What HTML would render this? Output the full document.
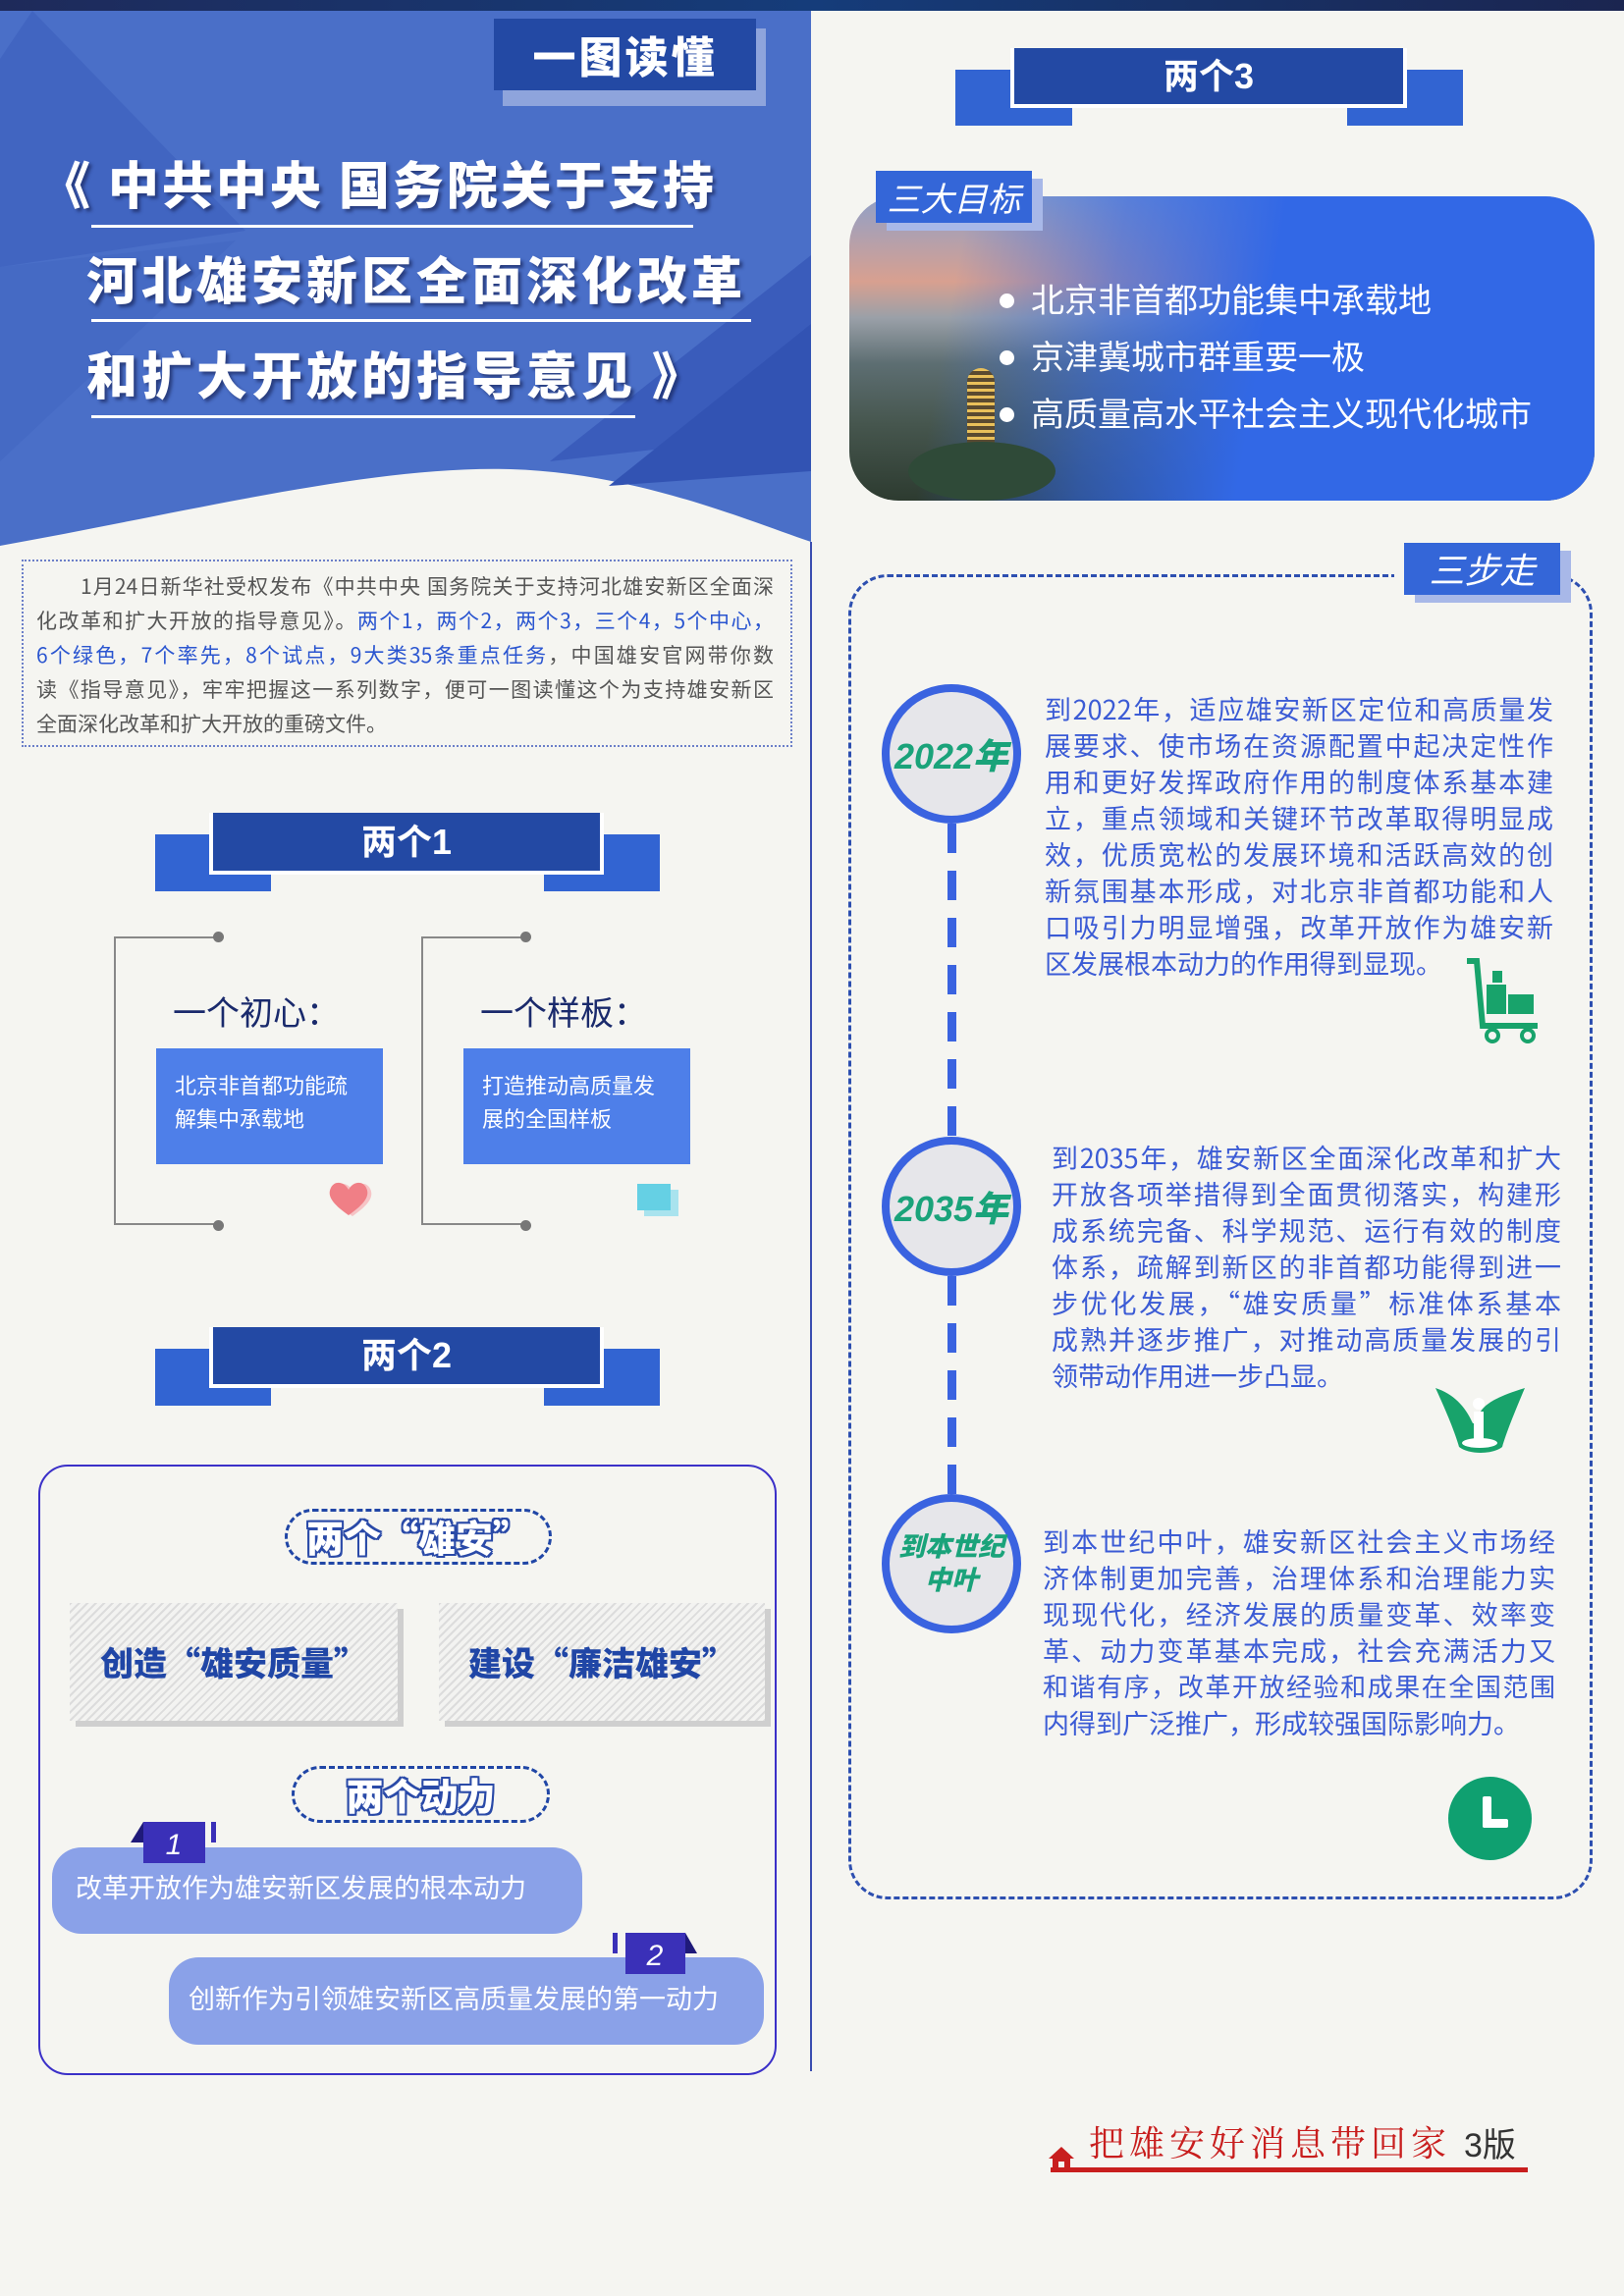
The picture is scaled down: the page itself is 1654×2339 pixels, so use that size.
<!DOCTYPE html>
<html><head><meta charset="utf-8">
<style>
*{margin:0;padding:0;box-sizing:border-box}
body{width:1654px;height:2339px;background:#f5f5f1;position:relative;overflow:hidden;font-family:"Liberation Sans","Noto Sans CJK SC",sans-serif}
.a{position:absolute}
.cj{font-family:"Noto Sans CJK SC","Liberation Sans",sans-serif}
.hm{position:absolute;background:#2349a4;border:4px solid #fff;border-top:0;color:#fff;font-weight:700;font-size:36px;text-align:center}
.hs{position:absolute;background:#3264d2}
.jl{text-align:justify;text-align-last:justify}
.tt{position:absolute;color:#fff;font-weight:900;font-size:52px;letter-spacing:4px;white-space:nowrap;text-shadow:3px 3px 3px rgba(20,30,80,.6)}
.ul{position:absolute;height:3px;background:#fff}
.intro div{position:absolute;left:37px;width:751px;font-size:21px;color:#555;height:35px;line-height:35px}
.b{color:#2a55d0}
.tl div{height:37px;line-height:37px;font-size:27px;color:#3b5bd5}
.circ{position:absolute;width:142px;height:142px;border-radius:50%;background:#e6e6ea;border:8px solid #3a63e0;color:#1aa37a;font-weight:900;font-style:italic;display:flex;align-items:center;justify-content:center;text-align:center}
.dl{position:absolute;left:965px;width:9px;background:repeating-linear-gradient(to bottom,#3a63e0 0 30px,transparent 30px 48px)}
.pill{position:absolute;border:3px dashed #2046a6;border-radius:30px;text-align:center;font-weight:900;color:#fff;font-size:38px;font-family:"Noto Sans CJK SC",sans-serif;text-shadow:2px 0 #2a4aa8,-2px 0 #2a4aa8,0 2px #2a4aa8,0 -2px #2a4aa8,2px 2px #2a4aa8,-2px -2px #2a4aa8,2px -2px #2a4aa8,-2px 2px #2a4aa8}
.hat{position:absolute;background:repeating-linear-gradient(135deg,#dcdcdc 0 2px,#f3f3f1 2px 6px);box-shadow:6px 6px 0 #cfcfcf;color:#2046a6;font-weight:900;font-size:34px;text-align:center;line-height:120px;font-family:"Noto Sans CJK SC",sans-serif}
.bar{position:absolute;background:#8aa1e8;border-radius:30px;color:#fff;font-size:27px}
.bl{position:relative;padding-left:34px}
.bl:before{content:"";position:absolute;left:2px;top:24px;width:15px;height:15px;border-radius:50%;background:#fff}
</style></head><body>

<!-- header -->
<svg class="a" style="left:0;top:0" width="826" height="600">
<path d="M0,0 L826,0 L826,552 C760,530 650,482 520,478 C380,474 200,520 0,556 Z" fill="#4a6fc8"/>
<polygon points="33,11 250,235 0,272 0,60" fill="#4165c1"/>
<polygon points="0,272 240,245 0,470" fill="#456ac4"/>
<polygon points="826,260 560,470 826,440" fill="#3a5cbb"/>
<polygon points="826,330 620,495 826,480" fill="#3253b3"/>
</svg>
<div class="a" style="left:0;top:0;width:1654px;height:11px;background:linear-gradient(to right,#1e2a5a,#153c7a 50%,#1b2550)"></div>
<div class="a" style="left:512px;top:29px;width:268px;height:79px;background:#8ea4dc"></div>
<div class="a cj" style="left:503px;top:19px;width:267px;height:73px;background:#2349a4;color:#fff;font-weight:900;font-size:44px;text-align:center;line-height:73px;letter-spacing:3px">一图读懂</div>

<div class="tt cj" style="left:40px;top:148px;letter-spacing:3px">《 中共中央 国务院关于支持</div>
<div class="ul" style="left:93px;top:229px;width:613px"></div>
<div class="tt cj" style="left:88px;top:245px;letter-spacing:4px">河北雄安新区全面深化改革</div>
<div class="ul" style="left:93px;top:325px;width:672px"></div>
<div class="tt cj" style="left:88px;top:342px;letter-spacing:4px">和扩大开放的指导意见 》</div>
<div class="ul" style="left:93px;top:423px;width:554px"></div>

<!-- intro -->
<div class="a intro cj" style="left:0;top:0">
<div class="a" style="left:22px;top:570px;width:785px;height:191px;border:2px dotted #6b7fc8"></div>
<div class="jl" style="top:580px;left:82px;width:706px">1月24日新华社受权发布《中共中央 国务院关于支持河北雄安新区全面深</div>
<div class="jl" style="top:615px">化改革和扩大开放的指导意见》。<span class="b">两个1，两个2，两个3，三个4，5个中心，</span></div>
<div class="jl" style="top:650px"><span class="b">6个绿色，7个率先，8个试点，9大类35条重点任务</span>，中国雄安官网带你数</div>
<div class="jl" style="top:685px">读《指导意见》，牢牢把握这一系列数字，便可一图读懂这个为支持雄安新区</div>
<div style="top:720px">全面深化改革和扩大开放的重磅文件。</div>
</div>

<div class="a" style="left:825px;top:552px;width:2px;height:1558px;background:#3a4db0"></div>

<!-- 两个1 -->
<div class="hs" style="left:158px;top:850px;width:118px;height:58px"></div>
<div class="hs" style="left:554px;top:850px;width:118px;height:58px"></div>
<div class="hm" style="left:213px;top:828px;width:402px;height:63px;line-height:59px">两个1</div>

<div class="a" style="left:116px;top:954px;width:107px;height:294px;border:2px solid #888;border-right:0"></div>
<div class="a" style="left:217px;top:949px;width:11px;height:11px;border-radius:50%;background:#777"></div>
<div class="a" style="left:217px;top:1243px;width:11px;height:11px;border-radius:50%;background:#777"></div>
<div class="a" style="left:429px;top:954px;width:106px;height:294px;border:2px solid #888;border-right:0"></div>
<div class="a" style="left:530px;top:949px;width:11px;height:11px;border-radius:50%;background:#777"></div>
<div class="a" style="left:530px;top:1243px;width:11px;height:11px;border-radius:50%;background:#777"></div>

<div class="a cj" style="left:176px;top:1005px;font-size:34px;color:#1a2a6c">一个初心：</div>
<div class="a cj" style="left:489px;top:1005px;font-size:34px;color:#1a2a6c">一个样板：</div>
<div class="a" style="left:159px;top:1068px;width:231px;height:118px;background:#4e7fe9;color:#fff;font-size:22px;line-height:34px;padding:22px 0 0 19px">北京非首都功能疏<br>解集中承载地</div>
<div class="a" style="left:472px;top:1068px;width:231px;height:118px;background:#4e7fe9;color:#fff;font-size:22px;line-height:34px;padding:22px 0 0 19px">打造推动高质量发<br>展的全国样板</div>
<svg class="a" style="left:333px;top:1202px" width="48" height="40"><path d="M22,36 C5,24 0,16 4,8 C8,0 18,2 22,10 C26,2 36,0 40,8 C44,16 39,24 22,36Z" fill="#f6c4c6" transform="translate(4,1)"/><path d="M22,36 C5,24 0,16 4,8 C8,0 18,2 22,10 C26,2 36,0 40,8 C44,16 39,24 22,36Z" fill="#f07f86"/></svg>
<div class="a" style="left:656px;top:1212px;width:35px;height:27px;background:#a9e3ee"></div>
<div class="a" style="left:649px;top:1206px;width:34px;height:27px;background:#65d0e4"></div>

<!-- 两个2 -->
<div class="hs" style="left:158px;top:1374px;width:118px;height:58px"></div>
<div class="hs" style="left:554px;top:1374px;width:118px;height:58px"></div>
<div class="hm" style="left:213px;top:1352px;width:402px;height:62px;line-height:58px">两个2</div>

<div class="a" style="left:39px;top:1492px;width:752px;height:622px;border:2px solid #3b30c8;border-radius:30px"></div>
<div class="pill" style="left:290px;top:1537px;width:272px;height:57px;line-height:50px">两个“雄安”</div>
<div class="hat" style="left:71px;top:1633px;width:334px;height:120px">创造“雄安质量”</div>
<div class="hat" style="left:447px;top:1633px;width:332px;height:120px">建设“廉洁雄安”</div>
<div class="pill" style="left:297px;top:1799px;width:263px;height:58px;line-height:51px">两个动力</div>

<div class="bar" style="left:53px;top:1882px;width:540px;height:88px;line-height:84px;padding-left:24px">改革开放作为雄安新区发展的根本动力</div>
<svg class="a" style="left:133px;top:1856px" width="90" height="44"><polygon points="0,21 13,0 13,21" fill="#1f1a7a"/><rect x="13" y="0" width="63" height="42" fill="#3a30b8"/><rect x="82" y="0" width="5" height="21" fill="#3a30b8"/><text x="44" y="33" font-family="Liberation Sans" font-style="italic" font-size="30" fill="#fff" text-anchor="middle">1</text></svg>
<div class="bar" style="left:172px;top:1994px;width:606px;height:89px;line-height:86px;padding-left:20px">创新作为引领雄安新区高质量发展的第一动力</div>
<svg class="a" style="left:624px;top:1969px" width="90" height="44"><rect x="0" y="0" width="5" height="21" fill="#3a30b8"/><rect x="13" y="0" width="61" height="42" fill="#3a30b8"/><polygon points="74,0 86,21 74,21" fill="#1f1a7a"/><text x="43" y="33" font-family="Liberation Sans" font-style="italic" font-size="30" fill="#fff" text-anchor="middle">2</text></svg>

<!-- 两个3 -->
<div class="hs" style="left:973px;top:71px;width:119px;height:57px"></div>
<div class="hs" style="left:1372px;top:71px;width:118px;height:57px"></div>
<div class="hm" style="left:1029px;top:49px;width:404px;height:61px;line-height:57px">两个3</div>

<div class="a" style="left:865px;top:200px;width:759px;height:310px;border-radius:50px;overflow:hidden;background:linear-gradient(to bottom,#8fa0c8 0%,#d8a090 28%,#9aa0a8 40%,#5d6e72 55%,#46564e 75%,#2d3b30 100%)">
<div class="a" style="left:0;top:0;width:759px;height:310px;background:linear-gradient(100deg,rgba(50,104,230,0) 15%,rgba(50,104,230,.6) 35%,#3268e6 55%)"></div>
<div class="a" style="left:120px;top:175px;width:28px;height:95px;border-radius:14px 14px 4px 4px;background:repeating-linear-gradient(to bottom,#e9c05a 0 3px,#5a4a30 3px 7px)"></div>
<div class="a" style="left:60px;top:250px;width:150px;height:60px;border-radius:50%;background:#2f4a38"></div>
</div>
<div class="a" style="left:903px;top:182px;width:159px;height:53px;background:#a8b8e8"></div>
<div class="a cj" style="left:892px;top:174px;width:159px;height:53px;background:#3466d8;color:#fff;font-size:34px;font-style:italic;line-height:53px;text-align:center">三大目标</div>
<div class="a cj" style="left:1016px;top:275px;color:#fff;font-size:34px;line-height:58px">
<div class="bl">北京非首都功能集中承载地</div><div class="bl">京津冀城市群重要一极</div><div class="bl">高质量高水平社会主义现代化城市</div></div>

<!-- 三步走 -->
<div class="a" style="left:864px;top:585px;width:758px;border:3px dashed #2d4fb0;border-radius:40px;height:1350px"></div>
<div class="a" style="left:1420px;top:570px;width:180px;height:50px;background:#f5f5f1"></div>
<div class="a" style="left:1441px;top:561px;width:159px;height:53px;background:#a8b8e8"></div>
<div class="a cj" style="left:1430px;top:553px;width:159px;height:53px;background:#3466d8;color:#fff;font-size:36px;font-style:italic;line-height:53px;text-align:center">三步走</div>

<div class="dl" style="top:839px;height:319px"></div>
<div class="dl" style="top:1300px;height:222px"></div>
<div class="circ" style="left:898px;top:697px;font-size:36px">2022年</div>
<div class="circ" style="left:898px;top:1158px;font-size:36px">2035年</div>
<div class="circ" style="left:898px;top:1522px;font-size:27px;line-height:34px">到本世纪<br>中叶</div>

<div class="a tl cj" style="left:1064px;top:703px;width:518px">
<div class="jl">到2022年，适应雄安新区定位和高质量发</div>
<div class="jl">展要求、使市场在资源配置中起决定性作</div>
<div class="jl">用和更好发挥政府作用的制度体系基本建</div>
<div class="jl">立，重点领域和关键环节改革取得明显成</div>
<div class="jl">效，优质宽松的发展环境和活跃高效的创</div>
<div class="jl">新氛围基本形成，对北京非首都功能和人</div>
<div class="jl">口吸引力明显增强，改革开放作为雄安新</div>
<div>区发展根本动力的作用得到显现。</div></div>

<div class="a tl cj" style="left:1071px;top:1160px;width:519px">
<div class="jl">到2035年，雄安新区全面深化改革和扩大</div>
<div class="jl">开放各项举措得到全面贯彻落实，构建形</div>
<div class="jl">成系统完备、科学规范、运行有效的制度</div>
<div class="jl">体系，疏解到新区的非首都功能得到进一</div>
<div class="jl">步优化发展，“雄安质量”标准体系基本</div>
<div class="jl">成熟并逐步推广，对推动高质量发展的引</div>
<div>领带动作用进一步凸显。</div></div>

<div class="a tl cj" style="left:1062px;top:1551px;width:522px">
<div class="jl">到本世纪中叶，雄安新区社会主义市场经</div>
<div class="jl">济体制更加完善，治理体系和治理能力实</div>
<div class="jl">现现代化，经济发展的质量变革、效率变</div>
<div class="jl">革、动力变革基本完成，社会充满活力又</div>
<div class="jl" style="font-size:26px">和谐有序，改革开放经验和成果在全国范围</div>
<div>内得到广泛推广，形成较强国际影响力。</div></div>

<!-- icons -->
<svg class="a" style="left:1490px;top:975px" width="85" height="90"><path d="M4,4 L14,4 L20,70 L76,70" stroke="#18a36b" stroke-width="6" fill="none"/><rect x="24" y="28" width="20" height="30" fill="#18a36b"/><rect x="46" y="38" width="26" height="20" fill="#18a36b"/><rect x="30" y="14" width="10" height="12" fill="#18a36b"/><circle cx="30" cy="80" r="6" stroke="#18a36b" stroke-width="4" fill="none"/><circle cx="66" cy="80" r="6" stroke="#18a36b" stroke-width="4" fill="none"/></svg>
<svg class="a" style="left:1460px;top:1410px" width="95" height="75"><path d="M2,4 C20,10 32,22 40,40 L48,40 L48,28 C52,22 60,14 93,4 C82,30 74,50 70,64 C60,72 36,72 26,64 C22,50 14,30 2,4Z" fill="#18a36b"/><circle cx="46" cy="20" r="6" fill="#fff"/><rect x="41" y="28" width="10" height="28" fill="#fff"/><ellipse cx="47" cy="60" rx="18" ry="5" fill="#fff"/></svg>
<div class="a" style="left:1475px;top:1810px;width:85px;height:85px;border-radius:50%;background:#0fa070"></div>
<div class="a" style="left:1510px;top:1830px;width:9px;height:32px;background:#fff;border-radius:2px"></div>
<div class="a" style="left:1510px;top:1853px;width:26px;height:9px;background:#fff;border-radius:2px"></div>

<!-- footer -->
<svg class="a" style="left:1066px;top:2185px" width="30" height="26"><polygon points="15,2 28,14 24,14 24,24 6,24 6,14 2,14" fill="#c81e1e"/><rect x="12" y="17" width="6" height="7" fill="#f5f5f1"/></svg>
<div class="a" style="left:1070px;top:2208px;width:486px;height:5px;background:#c81e1e"></div>
<div class="a" style="left:1109px;top:2156px;font-family:'Noto Serif CJK SC',serif;font-size:36px;letter-spacing:5px;color:#c81e1e;white-space:nowrap">把雄安好消息带回家</div>
<div class="a" style="left:1491px;top:2158px;font-size:34px;color:#333">3版</div>
</body></html>
